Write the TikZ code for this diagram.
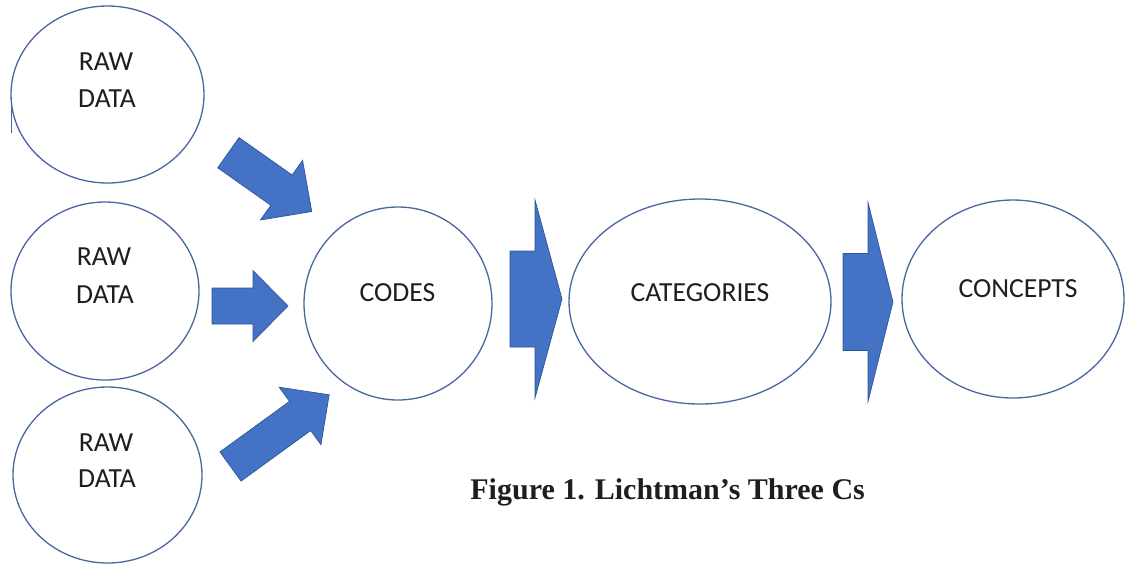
\documentclass[tikz,border=0pt]{standalone}
\usepackage{fontspec}
\setmainfont{Carlito}
\newfontfamily\capfont{Liberation Serif}
\usetikzlibrary{shapes.geometric}

\definecolor{blkfill}{HTML}{4472C4}
\definecolor{blkedge}{HTML}{2F5597}
\definecolor{ringedge}{HTML}{4A66A0}
\definecolor{ink}{HTML}{1E1E1E}

% block arrow: tail centre, angle, length, shaft width, head width, head length
\newcommand\blockarrow[6]{%
  \begin{scope}[shift={#1}, rotate=#2]
    \pgfmathsetmacro\headbase{#3-#6}
    \filldraw[blockarrow] (0,{-#4/2}) -- (\headbase,{-#4/2}) -- (\headbase,{-#5/2})
      -- (#3,0) -- (\headbase,{#5/2}) -- (\headbase,{#4/2}) -- (0,{#4/2}) -- cycle;
  \end{scope}}

\tikzset{
  ring/.style={ellipse, draw=ringedge, line width=0.65pt, fill=white, inner sep=0pt},
  blockarrow/.style={fill=blkfill, draw=blkedge, line width=0.35pt, line join=miter},
  lbl/.style={font=\fontsize{13.8pt}{16pt}\selectfont, text=ink, inner sep=0pt, anchor=base},
  caption/.style={font=\capfont\bfseries\fontsize{15pt}{18pt}\selectfont, text=ink, inner sep=0pt, anchor=base west}
}

\begin{document}
\begin{tikzpicture}[x=0.5pt, y=-0.5pt]
  \useasboundingbox (0,0) rectangle (1125,564);

  % ellipses
  \node[ring, minimum width=96.5pt, minimum height=88.5pt] (raw1) at (107.5,94.5) {};
  \node[ring, minimum width=94pt,   minimum height=89pt]   (raw2) at (105,291) {};
  \node[ring, minimum width=94.5pt, minimum height=88pt]   (raw3) at (107.5,475) {};
  \node[ring, minimum width=94pt,   minimum height=96.5pt] (codes) at (398,303.5) {};
  \node[ring, minimum width=131pt,  minimum height=102.5pt] (cats) at (700,301.5) {};
  \node[ring, minimum width=111pt,  minimum height=99pt]   (concs) at (1013,299) {};

  % small stroke at the left of the first ellipse
  \coordinate (tickA) at (11,97);
  \coordinate (tickB) at (11,133);
  \draw[ringedge, line width=0.5pt] (tickA) -- (tickB);

  % labels
  \node[lbl] (raw1a) at (106,70)  {RAW};
  \node[lbl] (raw1b) at (107,107) {DATA};
  \node[lbl] (raw2a) at (104,265) {RAW};
  \node[lbl] (raw2b) at (105,303) {DATA};
  \node[lbl] (raw3a) at (106,451) {RAW};
  \node[lbl] (raw3b) at (107,487) {DATA};
  \node[lbl] (codest) at (397.5,301) {CODES};
  \node[lbl] (catst)  at (700,301)   {CATEGORIES};
  \node[lbl] (concst) at (1018,297)  {CONCEPTS};

  % block arrows
  \blockarrow{(228.4,152.7)}{-35.2}{102}{37}{73}{37}
  \blockarrow{(212,306)}{0}{76}{36}{71}{35}
  \blockarrow{(230.5,466.5)}{36}{122}{36}{71}{36}
  \blockarrow{(510,299)}{0}{52}{96}{198}{27}
  \blockarrow{(843,302)}{0}{50}{97}{199}{25}

  % caption
  \node[caption] (cap) at (470,499) {Figure 1. Lichtman’s Three Cs};
\end{tikzpicture}
\end{document}
